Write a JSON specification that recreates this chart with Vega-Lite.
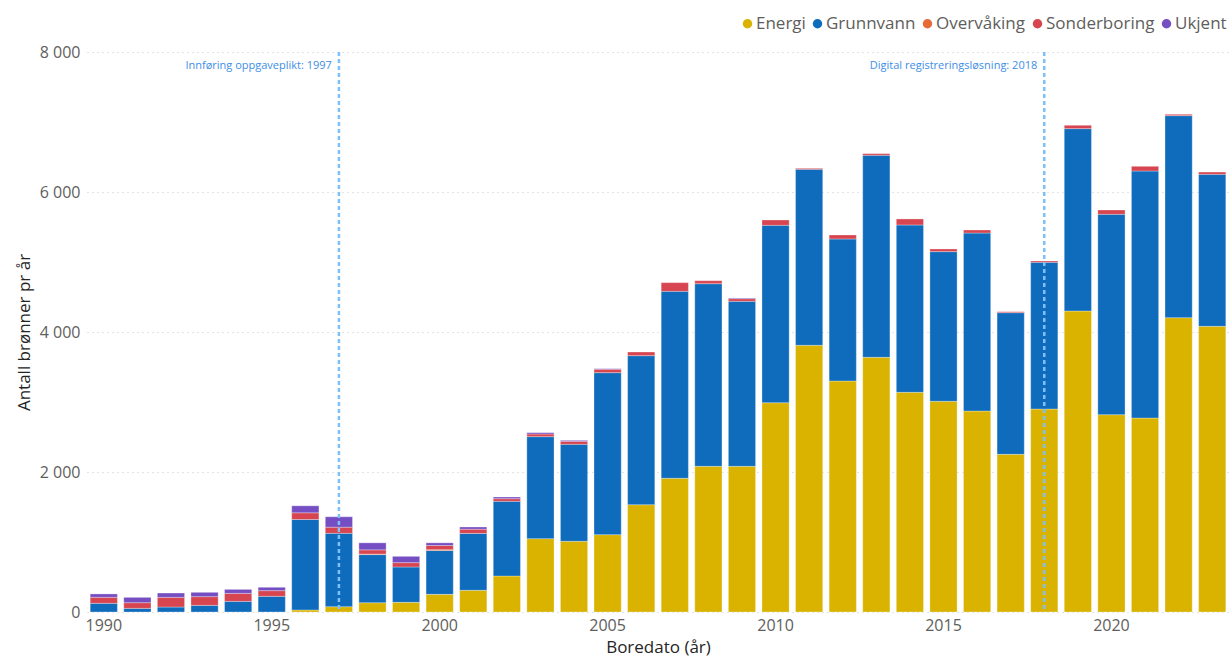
{
  "$schema": "https://vega.github.io/schema/vega-lite/v6.json",
  "width": 1142,
  "height": 560,
  "autosize": {"type": "none"},
  "padding": {"left": 87, "top": 52, "right": 2, "bottom": 48},
  "background": "white",
  "config": {
    "view": {"stroke": null},
    "font": "Open Sans"
  },
  "datasets": {
    "wells": [
      {"year": 1990, "type": "Grunnvann", "n": 124}, {"year": 1990, "type": "Sonderboring", "n": 86}, {"year": 1990, "type": "Ukjent", "n": 48},
      {"year": 1991, "type": "Grunnvann", "n": 52}, {"year": 1991, "type": "Sonderboring", "n": 81}, {"year": 1991, "type": "Ukjent", "n": 76},
      {"year": 1992, "type": "Grunnvann", "n": 71}, {"year": 1992, "type": "Sonderboring", "n": 138}, {"year": 1992, "type": "Ukjent", "n": 62},
      {"year": 1993, "type": "Grunnvann", "n": 95}, {"year": 1993, "type": "Sonderboring", "n": 124}, {"year": 1993, "type": "Ukjent", "n": 62},
      {"year": 1994, "type": "Grunnvann", "n": 152}, {"year": 1994, "type": "Sonderboring", "n": 114}, {"year": 1994, "type": "Ukjent", "n": 57},
      {"year": 1995, "type": "Grunnvann", "n": 224}, {"year": 1995, "type": "Sonderboring", "n": 81}, {"year": 1995, "type": "Ukjent", "n": 48},
      {"year": 1996, "type": "Energi", "n": 29}, {"year": 1996, "type": "Grunnvann", "n": 1293}, {"year": 1996, "type": "Sonderboring", "n": 95}, {"year": 1996, "type": "Ukjent", "n": 100},
      {"year": 1997, "type": "Energi", "n": 76}, {"year": 1997, "type": "Grunnvann", "n": 1048}, {"year": 1997, "type": "Sonderboring", "n": 88}, {"year": 1997, "type": "Ukjent", "n": 148},
      {"year": 1998, "type": "Energi", "n": 133}, {"year": 1998, "type": "Grunnvann", "n": 687}, {"year": 1998, "type": "Overvåking", "n": 8}, {"year": 1998, "type": "Sonderboring", "n": 60}, {"year": 1998, "type": "Ukjent", "n": 100},
      {"year": 1999, "type": "Energi", "n": 138}, {"year": 1999, "type": "Grunnvann", "n": 505}, {"year": 1999, "type": "Sonderboring", "n": 62}, {"year": 1999, "type": "Ukjent", "n": 90},
      {"year": 2000, "type": "Energi", "n": 252}, {"year": 2000, "type": "Grunnvann", "n": 626}, {"year": 2000, "type": "Overvåking", "n": 12}, {"year": 2000, "type": "Sonderboring", "n": 60}, {"year": 2000, "type": "Ukjent", "n": 38},
      {"year": 2001, "type": "Energi", "n": 310}, {"year": 2001, "type": "Grunnvann", "n": 813}, {"year": 2001, "type": "Sonderboring", "n": 60}, {"year": 2001, "type": "Ukjent", "n": 31},
      {"year": 2002, "type": "Energi", "n": 514}, {"year": 2002, "type": "Grunnvann", "n": 1067}, {"year": 2002, "type": "Sonderboring", "n": 38}, {"year": 2002, "type": "Ukjent", "n": 24},
      {"year": 2003, "type": "Energi", "n": 1048}, {"year": 2003, "type": "Grunnvann", "n": 1457}, {"year": 2003, "type": "Sonderboring", "n": 38}, {"year": 2003, "type": "Ukjent", "n": 19},
      {"year": 2004, "type": "Energi", "n": 1010}, {"year": 2004, "type": "Grunnvann", "n": 1385}, {"year": 2004, "type": "Sonderboring", "n": 43}, {"year": 2004, "type": "Ukjent", "n": 14},
      {"year": 2005, "type": "Energi", "n": 1105}, {"year": 2005, "type": "Grunnvann", "n": 2314}, {"year": 2005, "type": "Sonderboring", "n": 49}, {"year": 2005, "type": "Ukjent", "n": 8},
      {"year": 2006, "type": "Energi", "n": 1533}, {"year": 2006, "type": "Grunnvann", "n": 2129}, {"year": 2006, "type": "Sonderboring", "n": 52},
      {"year": 2007, "type": "Energi", "n": 1910}, {"year": 2007, "type": "Grunnvann", "n": 2671}, {"year": 2007, "type": "Sonderboring", "n": 124},
      {"year": 2008, "type": "Energi", "n": 2081}, {"year": 2008, "type": "Grunnvann", "n": 2609}, {"year": 2008, "type": "Sonderboring", "n": 43},
      {"year": 2009, "type": "Energi", "n": 2081}, {"year": 2009, "type": "Grunnvann", "n": 2357}, {"year": 2009, "type": "Sonderboring", "n": 38}, {"year": 2009, "type": "Ukjent", "n": 10},
      {"year": 2010, "type": "Energi", "n": 2990}, {"year": 2010, "type": "Grunnvann", "n": 2534}, {"year": 2010, "type": "Sonderboring", "n": 76},
      {"year": 2011, "type": "Energi", "n": 3810}, {"year": 2011, "type": "Grunnvann", "n": 2514}, {"year": 2011, "type": "Sonderboring", "n": 14},
      {"year": 2012, "type": "Energi", "n": 3300}, {"year": 2012, "type": "Grunnvann", "n": 2029}, {"year": 2012, "type": "Sonderboring", "n": 57},
      {"year": 2013, "type": "Energi", "n": 3638}, {"year": 2013, "type": "Grunnvann", "n": 2886}, {"year": 2013, "type": "Sonderboring", "n": 24},
      {"year": 2014, "type": "Energi", "n": 3138}, {"year": 2014, "type": "Grunnvann", "n": 2391}, {"year": 2014, "type": "Sonderboring", "n": 86},
      {"year": 2015, "type": "Energi", "n": 3010}, {"year": 2015, "type": "Grunnvann", "n": 2138}, {"year": 2015, "type": "Sonderboring", "n": 38},
      {"year": 2016, "type": "Energi", "n": 2871}, {"year": 2016, "type": "Grunnvann", "n": 2543}, {"year": 2016, "type": "Sonderboring", "n": 43},
      {"year": 2017, "type": "Energi", "n": 2252}, {"year": 2017, "type": "Grunnvann", "n": 2024}, {"year": 2017, "type": "Sonderboring", "n": 14},
      {"year": 2018, "type": "Energi", "n": 2900}, {"year": 2018, "type": "Grunnvann", "n": 2095}, {"year": 2018, "type": "Sonderboring", "n": 19},
      {"year": 2019, "type": "Energi", "n": 4300}, {"year": 2019, "type": "Grunnvann", "n": 2605}, {"year": 2019, "type": "Sonderboring", "n": 48},
      {"year": 2020, "type": "Energi", "n": 2819}, {"year": 2020, "type": "Grunnvann", "n": 2862}, {"year": 2020, "type": "Sonderboring", "n": 62},
      {"year": 2021, "type": "Energi", "n": 2771}, {"year": 2021, "type": "Grunnvann", "n": 3529}, {"year": 2021, "type": "Sonderboring", "n": 67},
      {"year": 2022, "type": "Energi", "n": 4205}, {"year": 2022, "type": "Grunnvann", "n": 2886}, {"year": 2022, "type": "Sonderboring", "n": 19},
      {"year": 2023, "type": "Energi", "n": 4081}, {"year": 2023, "type": "Grunnvann", "n": 2171}, {"year": 2023, "type": "Sonderboring", "n": 33}
    ],
    "notes": [
      {"year": 1997, "label": "Innføring oppgaveplikt: 1997", "ypos": 7800},
      {"year": 2018, "label": "Digital registreringsløsning: 2018", "ypos": 7800}
    ]
  },
  "encoding": {
    "x": {
      "field": "year",
      "type": "ordinal",
      "scale": {"paddingInner": 0.19, "paddingOuter": 0.095},
      "axis": {
        "title": "Boredato (år)",
        "labelAngle": 0,
        "labelExpr": "datum.value % 5 === 0 ? datum.label : ''",
        "labelFontSize": 16,
        "labelColor": "#605E5C",
        "labelPadding": 5,
        "ticks": false,
        "domain": false,
        "grid": false,
        "titleFontSize": 17,
        "titleFontWeight": "normal",
        "titleColor": "#252423",
        "titlePadding": 6
      }
    }
  },
  "layer": [
    {
      "data": {"name": "wells"},
      "mark": {"type": "bar", "stroke": "#ffffff", "strokeWidth": 0.6, "strokeOpacity": 0.5},
      "encoding": {
        "y": {
          "field": "n",
          "type": "quantitative",
          "aggregate": "sum",
          "stack": "zero",
          "scale": {"domain": [0, 8000], "nice": false},
          "axis": {
            "title": "Antall brønner pr år",
            "values": [0, 2000, 4000, 6000, 8000],
            "labelExpr": "replace(format(datum.value, ','), ',', ' ')",
            "labelFontSize": 16,
            "labelColor": "#605E5C",
            "labelPadding": 7,
            "ticks": false,
            "domain": false,
            "grid": true,
            "gridColor": "#C8C8C8",
            "gridDash": [1, 4],
            "gridWidth": 1,
            "titleFontSize": 17,
            "titleFontWeight": "normal",
            "titleColor": "#252423",
            "titlePadding": 6
          }
        },
        "color": {
          "field": "type",
          "type": "nominal",
          "scale": {
            "domain": ["Energi", "Grunnvann", "Overvåking", "Sonderboring", "Ukjent"],
            "range": ["#D9B300", "#0F6CBD", "#E66C37", "#D64550", "#744EC2"]
          },
          "legend": {
            "title": null,
            "orient": "none",
            "direction": "horizontal",
            "legendX": 652,
            "legendY": -37,
            "symbolType": "circle",
            "symbolSize": 90,
            "symbolStrokeWidth": 0,
            "labelFontSize": 17,
            "labelColor": "#605E5C",
            "labelOffset": 0,
            "columnPadding": 3,
            "padding": 0
          }
        },
        "order": {"field": "type", "sort": "ascending"}
      }
    },
    {
      "data": {"name": "notes"},
      "mark": {"type": "rule", "color": "#7FBFFA", "strokeWidth": 2.5, "strokeDash": [4, 3]},
      "encoding": {}
    },
    {
      "data": {"name": "notes"},
      "mark": {"type": "text", "align": "right", "baseline": "middle", "dx": -7, "fontSize": 11, "color": "#3D8EE6"},
      "encoding": {
        "y": {"field": "ypos", "type": "quantitative"},
        "text": {"field": "label"}
      }
    }
  ]
}
